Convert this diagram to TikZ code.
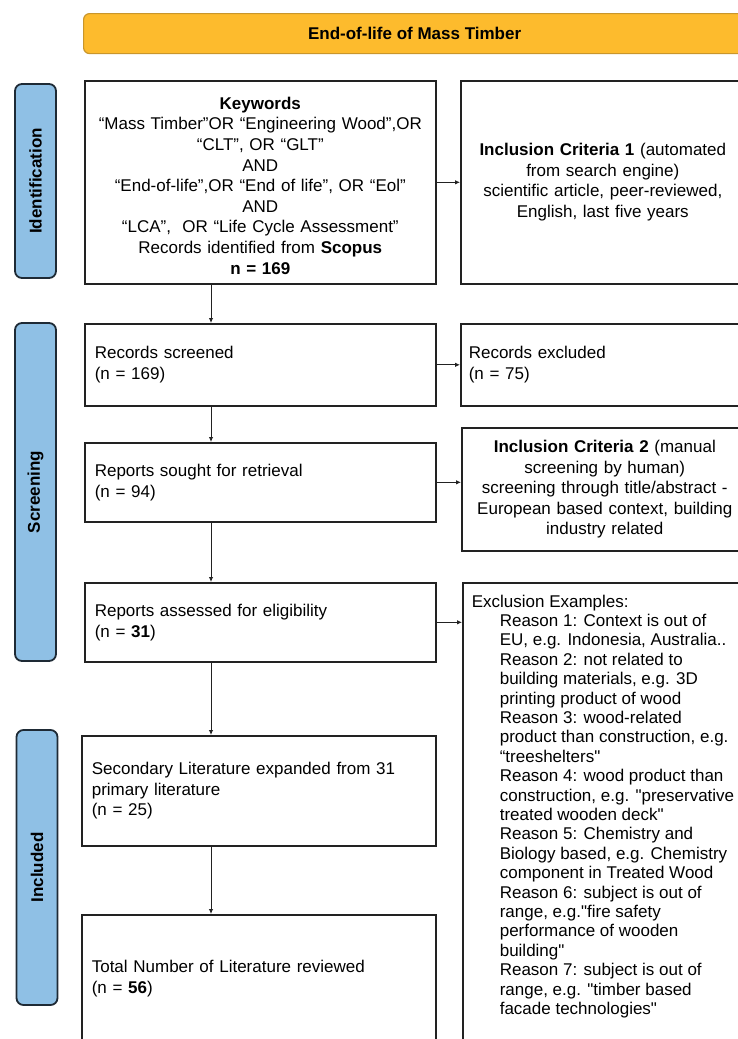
\documentclass[tikz,border=0pt]{standalone}
\usepackage{fontspec}
\setmainfont{Liberation Sans}[Ligatures=TeXOff]
\usetikzlibrary{arrows.meta}

\definecolor{titlefill}{HTML}{FDBB2D}
\definecolor{titleline}{HTML}{C9962B}
\definecolor{stagefill}{HTML}{8FC0E5}
\definecolor{stageline}{HTML}{1E2A35}
\definecolor{boxline}{HTML}{222222}

\begin{document}
\begin{tikzpicture}[x=1pt, y=-1pt,
    every node/.style={font=\fontsize{17}{20.6}\selectfont},
    stage/.style={draw=stageline, fill=stagefill, line width=1.8pt, rounded corners=7pt,
      rotate=90, minimum height=41pt, inner sep=0pt, font=\fontsize{17}{20}\selectfont\bfseries},
    frame/.style={draw=boxline, line width=1.6pt, anchor=north west, inner xsep=10pt, inner ysep=0pt},
    link/.style={draw=boxline, line width=0.9pt, -{Latex[length=5pt,width=4.5pt]}}]
    \useasboundingbox (0,0) rectangle (738,1039);
    \clip (0,0) rectangle (738,1039);

    \node[draw=titleline, fill=titlefill, line width=1.2pt, rounded corners=6pt, anchor=north west,
      minimum width=662pt, minimum height=40pt, font=\fontsize{17}{20}\selectfont\bfseries]
      (title) at (83,13) {End-of-life of Mass Timber};

    \node[stage, minimum width=194pt] (ident) at (35.5,181) {Identification};
    \node[stage, minimum width=338pt] (screen) at (35.5,492) {Screening};
    \node[stage, minimum width=275pt] (incl) at (37,867.5) {Included};

    \node[frame, text width=331pt, minimum height=203pt, align=center] (kw) at (84,80)
      {\rule{0pt}{19pt}\textbf{Keywords}\\
       “Mass Timber”OR “Engineering Wood”,OR\\
       “CLT”, OR “GLT”\\
       AND\\
       “End-of-life”,OR “End of life”, OR “Eol”\\
       AND\\
       “LCA”,\ \ OR “Life Cycle Assessment”\\
       Records identified from \textbf{Scopus}\\
       \textbf{n = 169}};
    \node[frame, text width=264pt, minimum height=203pt, align=center] (crit1) at (460,80)
      {\textbf{Inclusion Criteria 1} (automated\\
       from search engine)\\
       scientific article, peer-reviewed,\\
       English, last five years};

    \node[frame, text width=331pt, minimum height=82pt, align=left] (screened) at (84,323)
      {Records screened\\(n = 169)};
    \node[frame, text width=270pt, minimum height=82pt, align=left, inner xsep=8pt] (excluded) at (460,323)
      {Records excluded\\(n = 75)};

    \node[frame, text width=331pt, minimum height=79pt, align=left] (sought) at (84,442)
      {Reports sought for retrieval\\(n = 94)};
    \node[frame, text width=266pt, minimum height=123pt, align=center] (crit2) at (461,427)
      {\textbf{Inclusion Criteria 2} (manual\\
       screening by human)\\
       screening through title/abstract -\\
       European based context, building\\
       industry related};

    \node[frame, text width=331pt, minimum height=79pt, align=left] (assessed) at (84,582)
      {Reports assessed for eligibility\\(n = \textbf{31})};
    \node[frame, inner xsep=9pt, inner ysep=12pt] (reasons) at (462,582)
      {\parbox[t][470pt][t]{280pt}{\fontsize{17}{19.4}\selectfont\raggedright
       Exclusion Examples:\par
       \leftskip=28pt
       Reason 1: Context is out of\\
       EU, e.g. Indonesia, Australia..\\
       Reason 2: not related to\\
       building materials, e.g. 3D\\
       printing product of wood\\
       Reason 3: wood-related\\
       product than construction, e.g.\\
       “treeshelters"\\
       Reason 4: wood product than\\
       construction, e.g. "preservative\\
       treated wooden deck"\\
       Reason 5: Chemistry and\\
       Biology based, e.g. Chemistry\\
       component in Treated Wood\\
       Reason 6: subject is out of\\
       range, e.g."fire safety\\
       performance of wooden\\
       building"\\
       Reason 7: subject is out of\\
       range, e.g. "timber based\\
       facade technologies"}};

    \node[frame, text width=334pt, minimum height=110pt, align=left] (second) at (81,735)
      {Secondary Literature expanded from 31\\
       primary literature\\
       (n = 25)};
    \node[frame, text width=334pt, minimum height=127pt, align=left] (total) at (81,914)
      {Total Number of Literature reviewed\\(n = \textbf{56})};

    \coordinate (spine) at (211,0);
    \draw[link] (kw.south -| spine) -- (screened.north -| spine);
    \draw[link] (screened.south -| spine) -- (sought.north -| spine);
    \draw[link] (sought.south -| spine) -- (assessed.north -| spine);
    \draw[link] (assessed.south -| spine) -- (second.north -| spine);
    \draw[link] (second.south -| spine) -- (total.north -| spine);

    \draw[link] (kw.east) -- (kw.east -| crit1.west);
    \draw[link] (screened.east) -- (screened.east -| excluded.west);
    \draw[link] (sought.east) -- (sought.east -| crit2.west);
    \draw[link] (assessed.east) -- (assessed.east -| reasons.west);
\end{tikzpicture}
\end{document}
